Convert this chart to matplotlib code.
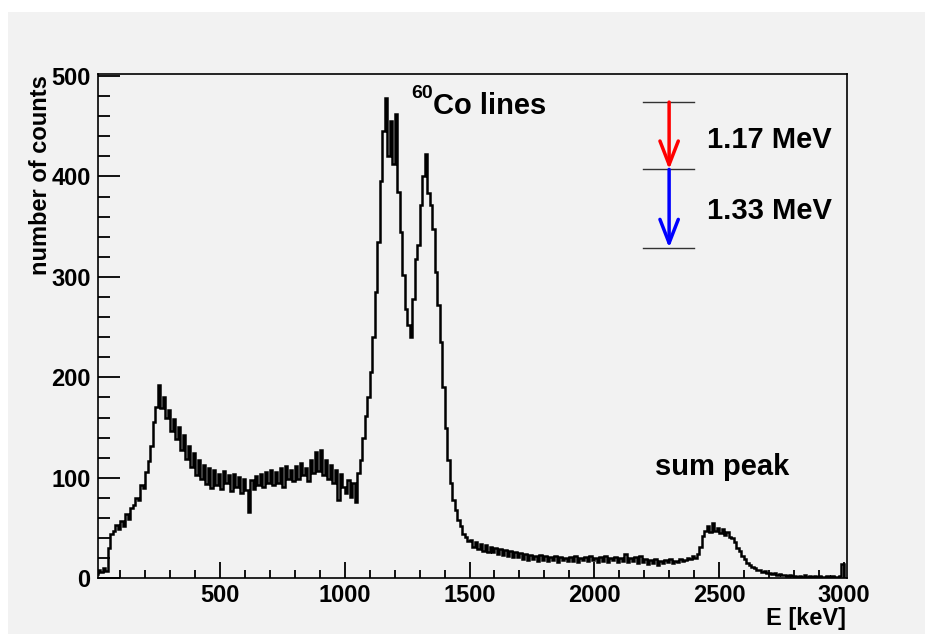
import numpy as np
import matplotlib
matplotlib.use("Agg")
import matplotlib.pyplot as plt
from matplotlib.patches import Rectangle
from matplotlib.ticker import MultipleLocator

# --- Donnees : comptages par canal de 10 keV ---
bin_width = 10
counts = [
    4, 8, 6, 10, 7, 30, 44, 47, 53, 49,                  # 0-90
    57, 52, 64, 59, 70, 73, 80, 78, 93, 90,              # 100-190
    106, 117, 132, 156, 171, 192, 170, 180, 160, 168,    # 200-290
    147, 159, 139, 151, 128, 143, 119, 132, 111, 125,    # 300-390
    103, 118, 99, 113, 94, 110, 90, 108, 93, 104,        # 400-490
    89, 107, 95, 103, 87, 104, 91, 101, 85, 99,          # 500-590
    88, 66, 98, 89, 102, 93, 104, 91, 106, 95,           # 600-690
    108, 93, 106, 95, 110, 91, 112, 99, 108, 97,         # 700-790
    112, 99, 115, 103, 110, 97, 118, 105, 126, 107,      # 800-890
    128, 103, 118, 99, 113, 95, 108, 78, 104, 91,        # 900-990
    85, 98, 81, 95, 76, 105, 118, 140, 162, 180,         # 1000-1090
    205, 240, 285, 335, 395, 445, 478, 420, 455, 412,    # 1100-1190
    462, 385, 345, 302, 268, 252, 240, 278, 318, 332,    # 1200-1290
    372, 400, 422, 384, 372, 348, 305, 272, 235, 190,    # 1300-1390
    150, 118, 95, 78, 68, 58, 52, 44, 41, 37,            # 1400-1490
    38, 31, 36, 29, 34, 27, 33, 26, 31, 26,              # 1500-1590
    30, 24, 29, 23, 28, 22, 27, 21, 26, 21,              # 1600-1690
    25, 19, 24, 18, 23, 19, 22, 17, 23, 18,              # 1700-1790
    22, 17, 21, 18, 22, 16, 21, 18, 20, 17,              # 1800-1890
    21, 17, 22, 16, 20, 18, 21, 17, 22, 18,              # 1900-1990
    20, 16, 21, 17, 22, 16, 20, 18, 21, 16,              # 2000-2090
    20, 17, 24, 16, 20, 17, 21, 15, 22, 16,              # 2100-2190
    19, 14, 18, 15, 19, 13, 17, 15, 18, 16,              # 2200-2290
    19, 15, 17, 16, 19, 17, 18, 20, 19, 22,              # 2300-2390
    20, 24, 31, 42, 47, 52, 46, 55, 47, 50,              # 2400-2490
    45, 49, 43, 46, 41, 40, 36, 30, 27, 22,              # 2500-2590
    19, 15, 13, 11, 10, 8, 8, 6, 7, 5,                   # 2600-2690
    5, 4, 5, 3, 4, 3, 3, 2, 3, 2,                        # 2700-2790
    2, 1, 2, 1, 3, 1, 2, 1, 2, 1,                        # 2800-2890
    2, 1, 1, 2, 1, 2, 1, 1, 2, 14,                       # 2900-2990
]
edges = np.arange(len(counts) + 1) * bin_width

# niveaux du 60Ni (schema) et raies
level_y = [474, 407, 329]
line_labels = ["1.17 MeV", "1.33 MeV"]
line_colors = ["red", "blue"]

police = "Liberation Sans"
gris = "#f2f2f2"

fig = plt.figure(figsize=(9.25, 6.34), dpi=100)
fig.patch.set_facecolor("white")
fig.patches.append(Rectangle((8 / 925, 0), 1, 1 - 12 / 634, transform=fig.transFigure,
                             facecolor=gris, edgecolor="none", zorder=-10))

ax = fig.add_axes([0.1063, 0.0878, 0.9154 - 0.1063, 0.8833 - 0.0878])
ax.set_facecolor(gris)

ax.stairs(counts, edges, color="black", lw=1.8)

ax.set_xlim(12, 3012)
ax.set_ylim(0, 502)

ax.xaxis.set_major_locator(MultipleLocator(500))
ax.xaxis.set_minor_locator(MultipleLocator(100))
ax.yaxis.set_major_locator(MultipleLocator(100))
ax.yaxis.set_minor_locator(MultipleLocator(20))

ax.tick_params(axis="both", which="both", direction="in", top=False, right=False,
               width=1.3, color="black")
ax.tick_params(axis="y", which="major", length=16, pad=5.5)
ax.tick_params(axis="y", which="minor", length=8.5)
ax.tick_params(axis="x", which="major", length=11.5, pad=4)
ax.tick_params(axis="x", which="minor", length=6)
ax.tick_params(labelsize=17)
for lab in ax.get_xticklabels() + ax.get_yticklabels():
    lab.set_fontfamily(police)
    lab.set_fontweight("bold")
for sp in ax.spines.values():
    sp.set_linewidth(1.2)

# titres des axes
fig.text(845.7 / 925, 1 - 625 / 634, "E [keV]", ha="right", va="baseline",
         fontsize=17, fontweight="bold", family=police)
fig.text(47 / 925, 1 - 75 / 634, "number of counts", rotation=90, rotation_mode="anchor",
         ha="right", va="baseline", fontsize=17, fontweight="bold", family=police)

# annotations
ax.text(1355, 462, "Co lines", fontsize=21, fontweight="bold", family=police,
        ha="left", va="baseline")
ax.text(1268, 478, "60", fontsize=14, fontweight="bold", family=police,
        ha="left", va="baseline")
ax.text(2243, 103, "sum peak", fontsize=21, fontweight="bold", family=police,
        ha="left", va="baseline")

for y in level_y:
    ax.plot([2197, 2401], [y, y], color="#333333", lw=1.0)

for i in range(2):
    ax.annotate("", xy=(2300, level_y[i + 1]), xytext=(2300, level_y[i]),
                arrowprops=dict(arrowstyle="->, head_length=0.85, head_width=0.33",
                                mutation_scale=20, color=line_colors[i], lw=2.5,
                                shrinkA=0, shrinkB=0))
ax.text(2452, 428, line_labels[0], fontsize=21, fontweight="bold", family=police,
        ha="left", va="baseline")
ax.text(2452, 358, line_labels[1], fontsize=21, fontweight="bold", family=police,
        ha="left", va="baseline")

fig.savefig("out.png", dpi=100, facecolor=fig.get_facecolor())
